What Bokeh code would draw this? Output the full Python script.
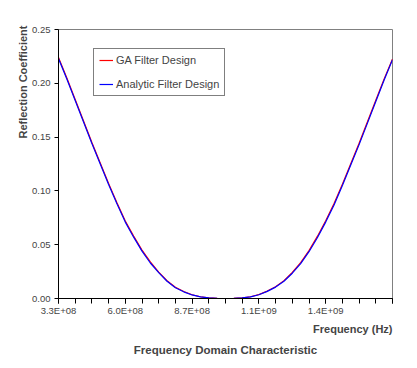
from bokeh.plotting import figure
from bokeh.models import Range1d, FixedTicker, NumeralTickFormatter, Title, Legend, LegendItem
from bokeh.embed import file_html
from bokeh.resources import INLINE

# Frequency samples (MHz)
freq_mhz = [330.00, 363.75, 397.50, 431.25, 465.00, 498.75, 532.50, 566.25, 600.00, 633.75,
            667.50, 701.25, 735.00, 768.75, 802.50, 836.25, 870.00, 903.75, 937.50, 971.25,
            1005.00, 1038.75, 1072.50, 1106.25, 1140.00, 1173.75, 1207.50, 1241.25, 1275.00, 1308.75,
            1342.50, 1376.25, 1410.00, 1443.75, 1477.50, 1511.25, 1545.00, 1578.75, 1612.50, 1646.25,
            1680.00]

analytic = [0.223, 0.204, 0.184, 0.164, 0.144, 0.125, 0.106, 0.088, 0.071, 0.057,
            0.044, 0.033, 0.024, 0.016, 0.010, 0.0062, 0.0033, 0.0015, 0.0005, 0.0001,
            0.0, 0.0001, 0.0005, 0.0015, 0.0035, 0.0066, 0.0106, 0.016, 0.0235, 0.0325,
            0.0435, 0.0565, 0.071, 0.087, 0.105, 0.124, 0.143, 0.163, 0.183, 0.203,
            0.222]

ga = [0.224, 0.205, 0.185, 0.165, 0.145, 0.126, 0.107, 0.089, 0.072, 0.058,
      0.045, 0.034, 0.0245, 0.0165, 0.0105, 0.0065, 0.0035, 0.0016, 0.0005, 0.0001,
      0.0, 0.0001, 0.0005, 0.0016, 0.0037, 0.0069, 0.011, 0.0166, 0.0242, 0.0333,
      0.0445, 0.0577, 0.0722, 0.0883, 0.1063, 0.1252, 0.1443, 0.1642, 0.1843, 0.2041,
      0.2225]

x_tick_values = [330e6, 600e6, 870e6, 1140e6, 1410e6, 1680e6]
x_tick_labels = ["3.3E+08", "6.0E+08", "8.7E+08", "1.1E+09", "1.4E+09", ""]
y_ticks = [0.0, 0.05, 0.10, 0.15, 0.20, 0.25]

freq_hz = [f * 1e6 for f in freq_mhz]
minor = [x_tick_values[0] + i * (x_tick_values[1] - x_tick_values[0]) / 4 for i in range(21)]

FONT = "Liberation Sans"

p = figure(width=409, height=360, output_backend="svg", toolbar_location=None,
           x_range=Range1d(x_tick_values[0], x_tick_values[-1]), y_range=Range1d(0, 0.25),
           min_border_left=58, min_border_right=17, min_border_top=29, min_border_bottom=20)
p.background_fill_color = "white"
p.border_fill_color = "white"
p.outline_line_color = "#808080"
p.outline_line_width = 1
p.xgrid.visible = False
p.ygrid.visible = False

r_ga = p.line(freq_hz, ga, line_color="#ff0000", line_width=1.2)
r_an = p.line(freq_hz, analytic, line_color="#0000ff", line_width=1.2)

xa = p.xaxis[0]
xa.ticker = FixedTicker(ticks=x_tick_values, minor_ticks=minor)
xa.major_label_overrides = {v: l for v, l in zip(x_tick_values, x_tick_labels)}
xa.major_tick_in = 0
xa.major_tick_out = 5
xa.minor_tick_in = 0
xa.minor_tick_out = 5
xa.minor_tick_line_color = "black"
xa.axis_line_color = "black"
xa.major_label_text_font = FONT
xa.major_label_text_font_size = "9.5px"
xa.major_label_standoff = 1

ya = p.yaxis[0]
ya.ticker = FixedTicker(ticks=y_ticks)
ya.formatter = NumeralTickFormatter(format="0.00")
ya.major_tick_in = 0
ya.major_tick_out = 4
ya.minor_tick_line_color = None
ya.axis_line_color = "black"
ya.major_label_text_font = FONT
ya.major_label_text_font_size = "9.5px"
ya.major_label_standoff = 4

p.add_layout(Title(text="Frequency (Hz)", align="right", text_font=FONT, text_font_size="11px",
                   text_font_style="bold", offset=0, standoff=5), "below")
p.add_layout(Title(text="Frequency Domain Characteristic", align="center", text_font=FONT,
                   text_font_size="11.5px", text_font_style="bold", standoff=9), "below")
p.add_layout(Title(text="Reflection Coefficient", align="right", text_font=FONT, text_font_size="11px",
                   text_font_style="bold", standoff=2, offset=-4), "left")

legend = Legend(items=[LegendItem(label="GA Filter Design", renderers=[r_ga]),
                       LegendItem(label="Analytic Filter Design", renderers=[r_an])],
                location=(35, 202), orientation="vertical")
legend.border_line_color = "black"
legend.border_line_width = 1
legend.background_fill_color = "white"
legend.background_fill_alpha = 1
legend.label_text_font = FONT
legend.label_text_font_size = "11px"
legend.glyph_width = 14
legend.glyph_height = 12
legend.label_height = 12
legend.label_standoff = 3
legend.padding = 5
legend.spacing = 12
legend.margin = 0
p.add_layout(legend, "center")

open("out.html", "w").write(file_html(p, INLINE))
